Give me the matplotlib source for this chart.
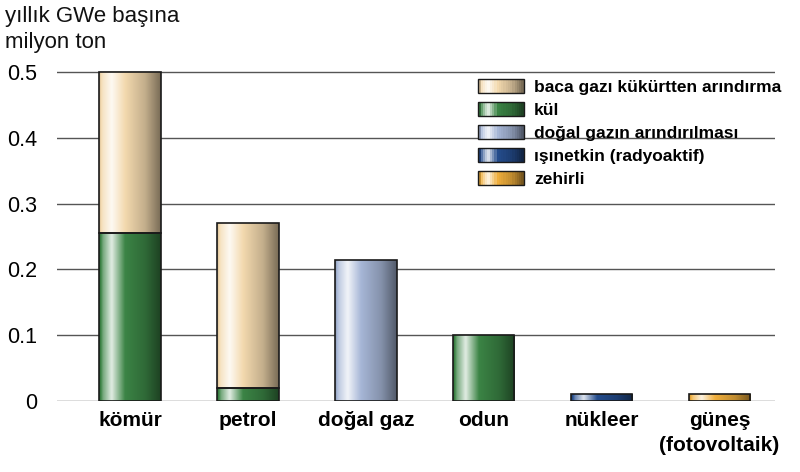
import numpy as np
import matplotlib
matplotlib.use("Agg")
import matplotlib.pyplot as plt
from matplotlib.patches import Rectangle, Patch
from matplotlib.legend_handler import HandlerBase
from matplotlib.colors import to_rgb

plt.rcParams['font.family'] = ['Liberation Sans', 'DejaVu Sans']

categories = ["kömür", "petrol", "doğal gaz", "odun", "nükleer", "güneş\n(fotovoltaik)"]
series_names = ["baca gazı kükürtten arındırma", "kül", "doğal gazın arındırılması",
                "ışınetkin (radyoaktif)", "zehirli"]
series_colors = ["#F3D9AE", "#3B8445", "#A6B6D6", "#244C8C", "#EFAE3C"]
# stacking order from bottom: kül, then others
kul = [0.255, 0.02, 0.0, 0.10, 0.0, 0.0]
baca = [0.245, 0.25, 0.0, 0.0, 0.0, 0.0]
dogalgaz = [0.0, 0.0, 0.215, 0.0, 0.0, 0.0]
radyo = [0.0, 0.0, 0.0, 0.0, 0.01, 0.0]
zehirli = [0.0, 0.0, 0.0, 0.0, 0.0, 0.01]
yticks = [0, 0.1, 0.2, 0.3, 0.4, 0.5]


def shade_profile(color, n=64):
    t = np.linspace(0, 1, n)
    kt = [0.0, 0.06, 0.2, 0.42, 0.75, 1.0]
    kv = [-0.18, 0.3, 0.85, 0.0, -0.2, -0.5]
    f = np.interp(t, kt, kv)
    c = np.array(to_rgb(color))
    out = np.empty((n, 3))
    for i, v in enumerate(f):
        if v >= 0:
            out[i] = c + (1 - c) * v
        else:
            out[i] = c * (1 + v)
    return np.clip(out, 0, 1)


fig = plt.figure(figsize=(8, 4.72), dpi=100)
ax = fig.add_axes([57 / 800, 1 - 401 / 472, 718 / 800, 0.52 * 658 / 472])
ax.set_xlim(-0.62, 5.47)
ax.set_ylim(0, 0.52)

x = np.arange(len(categories))
width = 0.52

stack = [(kul, series_colors[1]), (baca, series_colors[0]), (dogalgaz, series_colors[2]),
         (radyo, series_colors[3]), (zehirli, series_colors[4])]
bottom = np.zeros(len(categories))
for vals, col in stack:
    vals = np.array(vals)
    bars = ax.bar(x, vals, width, bottom=bottom, color=col, edgecolor="#1a1a1a",
                  linewidth=1.2, zorder=3)
    grad = shade_profile(col)[None, :, :]
    for b, v in zip(bars, vals):
        if v <= 0:
            b.set_visible(False)
            continue
        bx, by = b.get_x(), b.get_y()
        im = ax.imshow(grad, extent=(bx, bx + b.get_width(), by, by + b.get_height()),
                       aspect="auto", interpolation="bilinear", zorder=3.5)
        im.set_clip_path(b)
        b.set_facecolor("none")
        b.set_zorder(4)
    bottom = bottom + vals

ax.set_xlim(-0.62, 5.47)
ax.set_ylim(0, 0.52)

for yv in yticks:
    ax.axhline(yv, color="#555555", lw=1.0, zorder=1)

for s in ax.spines.values():
    s.set_visible(False)
ax.set_yticks(yticks)
ax.set_yticklabels([f"{v:g}" if v != 0 else "0" for v in yticks], fontsize=15.5)
ax.tick_params(axis="y", length=0, pad=14)
ax.set_xticks(x)
ax.set_xticklabels(categories, fontsize=15, fontweight="bold", linespacing=1.4)
ax.tick_params(axis="x", length=0, pad=7)
for lab in ax.get_xticklabels():
    lab.set_verticalalignment("top")

fig.text(5 / 800, 1 - 6 / 472, "yıllık GWe başına\nmilyon ton", fontsize=16,
         ha="left", va="top", linespacing=1.3, color="#111111")


class GradHandler(HandlerBase):
    def create_artists(self, legend, orig_handle, xdescent, ydescent, width, height, fontsize, trans):
        col = orig_handle.get_facecolor()
        prof = shade_profile(col, 20)
        arts = []
        n = len(prof)
        for i, c in enumerate(prof):
            r = Rectangle((-xdescent + width * i / n, -ydescent), width / n + 0.3, height,
                          facecolor=c, edgecolor="none", transform=trans)
            arts.append(r)
        arts.append(Rectangle((-xdescent, -ydescent), width, height, facecolor="none",
                              edgecolor="#1a1a1a", lw=1.0, transform=trans))
        return arts


handles = [Patch(facecolor=c) for c in series_colors]
leg = ax.legend(handles, series_names, handler_map={Patch: GradHandler()},
                loc="upper left", bbox_to_anchor=(0.587, 0.94), frameon=False,
                fontsize=12.5, handlelength=2.6, handleheight=0.8, handletextpad=0.6,
                labelspacing=0.42, borderaxespad=0, borderpad=0)
for t in leg.get_texts():
    t.set_fontweight("bold")

fig.savefig("out.png", dpi=100)
